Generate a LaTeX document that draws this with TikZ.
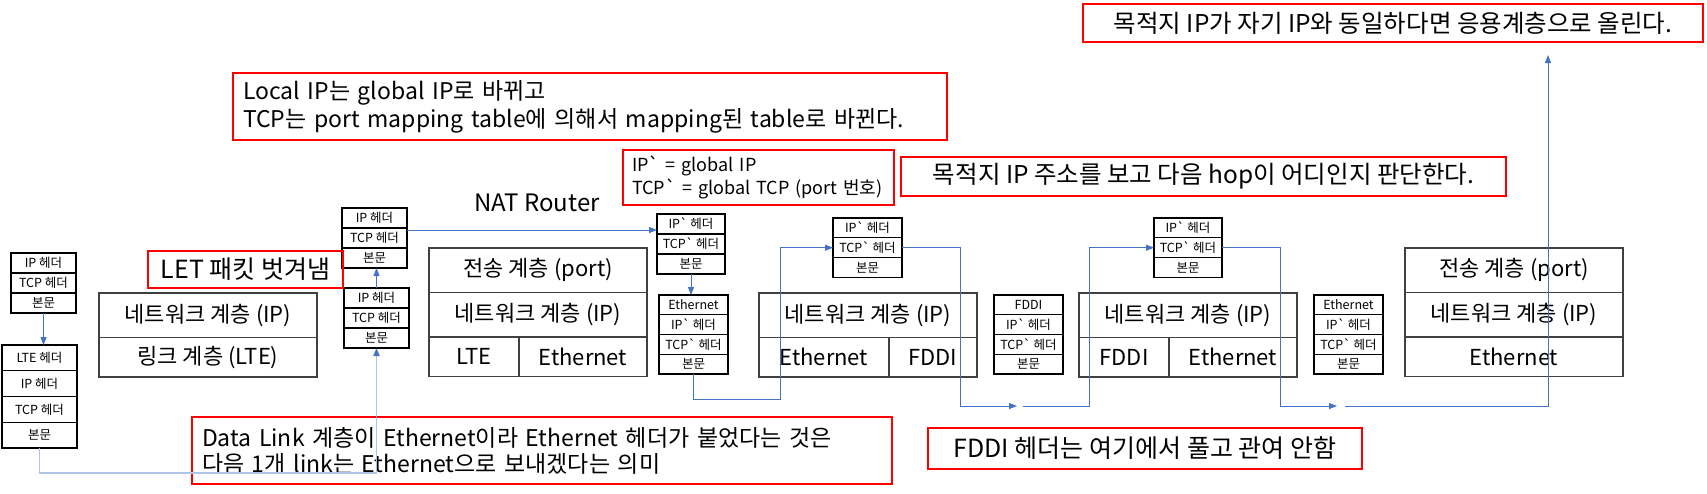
\documentclass[tikz,border=0pt]{standalone}
\usepackage{fontspec}
\setmainfont{Noto Sans CJK KR}[Ligatures=TeXOff]
\usepackage{tikz}
\usetikzlibrary{positioning}
\usetikzlibrary{arrows.meta}

\definecolor{flowblue}{RGB}{68,114,196}
\definecolor{paleblue}{RGB}{176,196,230}
\definecolor{layergray}{RGB}{64,64,64}

\tikzset{
  cell/.style={draw=black, line width=1.2pt, inner sep=0pt, outer sep=0pt, minimum height=20pt, font=\fontsize{12.5}{14}\selectfont},
  layer/.style={draw=layergray, line width=1.8pt, inner sep=0pt, outer sep=0pt, minimum width=218pt, minimum height=44.5pt, font=\fontsize{22}{26}\selectfont},
  note/.style={draw=red, line width=1.2pt, inner sep=0pt, outer sep=0pt, font=\fontsize{24.5}{28}\selectfont},
  flow/.style={flowblue, line width=1pt, -{Triangle[length=8pt,width=6pt]}},
}

\begin{document}
\begin{tikzpicture}[x=1pt, y=-1pt]
\useasboundingbox (0,0) rectangle (1707,493);

% sender packets
\begin{scope}[cell/.append style={minimum width=65pt}]
\node[cell, anchor=north west] (A1) at (11,253) {IP 헤더};
\node[cell, below=0pt of A1] (A2) {TCP 헤더};
\node[cell, below=0pt of A2] (A3) {본문};
\end{scope}
\begin{scope}[cell/.append style={minimum width=75pt, minimum height=25.75pt}]
\node[cell, anchor=north west] (B1) at (2,345) {LTE 헤더};
\node[cell, below=0pt of B1] (B2) {IP 헤더};
\node[cell, below=0pt of B2] (B3) {TCP 헤더};
\node[cell, below=0pt of B3] (B4) {본문};
\end{scope}

% link layer of the host
\node[layer, anchor=north west] (L1a) at (99,293) {네트워크 계층 (IP)};
\node[layer, minimum height=39.5pt, below=0pt of L1a] (L1b) {링크 계층 (LTE)};

% NAT router
\begin{scope}[cell/.append style={minimum width=65pt}]
\node[cell, anchor=north west] (C1) at (344,288) {IP 헤더};
\node[cell, below=0pt of C1] (C2) {TCP 헤더};
\node[cell, below=0pt of C2] (C3) {본문};
\node[cell, anchor=north west] (D1) at (342,208) {IP 헤더};
\node[cell, below=0pt of D1] (D2) {TCP 헤더};
\node[cell, below=0pt of D2] (D3) {본문};
\end{scope}
\node[font=\fontsize{24}{28}\selectfont] (natlabel) at (537,203) {NAT Router};
\node[layer, anchor=north west] (L2a) at (429,248) {전송 계층 (port)};
\node[layer, below=0pt of L2a] (L2b) {네트워크 계층 (IP)};
\node[layer, minimum width=90pt, minimum height=39.5pt, anchor=north west] (L2c) at (L2b.south west) {LTE};
\node[layer, minimum width=128pt, minimum height=39.5pt, anchor=north west] (L2d) at (L2c.north east) {Ethernet};

\begin{scope}[cell/.append style={minimum width=68pt}]
\node[cell, anchor=north west] (E1) at (657,214) {IP` 헤더};
\node[cell, below=0pt of E1] (E2) {TCP` 헤더};
\node[cell, below=0pt of E2] (E3) {본문};
\end{scope}
\begin{scope}[cell/.append style={minimum width=69pt, minimum height=19.75pt}]
\node[cell, anchor=north west] (F1) at (659,295) {Ethernet};
\node[cell, below=0pt of F1] (F2) {IP` 헤더};
\node[cell, below=0pt of F2] (F3) {TCP` 헤더};
\node[cell, below=0pt of F3] (F4) {본문};
\end{scope}

% router 2
\begin{scope}[cell/.append style={minimum width=69pt, minimum height=19.8pt}]
\node[cell, anchor=north west] (G1) at (833,218) {IP` 헤더};
\node[cell, below=0pt of G1] (G2) {TCP` 헤더};
\node[cell, below=0pt of G2] (G3) {본문};
\end{scope}
\node[layer, anchor=north west] (L3a) at (759,293) {네트워크 계층 (IP)};
\node[layer, minimum width=130pt, minimum height=39.5pt, anchor=north west] (L3b) at (L3a.south west) {Ethernet};
\node[layer, minimum width=88pt, minimum height=39.5pt, anchor=north west] (L3c) at (L3b.north east) {FDDI};

\begin{scope}[cell/.append style={minimum width=69pt, minimum height=19.75pt}]
\node[cell, anchor=north west] (H1) at (994,295) {FDDI};
\node[cell, below=0pt of H1] (H2) {IP` 헤더};
\node[cell, below=0pt of H2] (H3) {TCP` 헤더};
\node[cell, below=0pt of H3] (H4) {본문};
\end{scope}

% router 3
\begin{scope}[cell/.append style={minimum width=68pt, minimum height=19.8pt}]
\node[cell, anchor=north west] (J1) at (1154,218) {IP` 헤더};
\node[cell, below=0pt of J1] (J2) {TCP` 헤더};
\node[cell, below=0pt of J2] (J3) {본문};
\end{scope}
\node[layer, anchor=north west] (L4a) at (1079,293) {네트워크 계층 (IP)};
\node[layer, minimum width=90pt, minimum height=39.5pt, anchor=north west] (L4b) at (L4a.south west) {FDDI};
\node[layer, minimum width=128pt, minimum height=39.5pt, anchor=north west] (L4c) at (L4b.north east) {Ethernet};

\begin{scope}[cell/.append style={minimum width=69pt, minimum height=19.75pt}]
\node[cell, anchor=north west] (K1) at (1314,295) {Ethernet};
\node[cell, below=0pt of K1] (K2) {IP` 헤더};
\node[cell, below=0pt of K2] (K3) {TCP` 헤더};
\node[cell, below=0pt of K3] (K4) {본문};
\end{scope}

% receiver
\node[layer, anchor=north west] (L5a) at (1405,248) {전송 계층 (port)};
\node[layer, below=0pt of L5a] (L5b) {네트워크 계층 (IP)};
\node[layer, minimum height=39.5pt, below=0pt of L5b] (L5c) {Ethernet};

% notes
\node[note, minimum width=620pt, minimum height=38pt] (destnote) at (1393,23) {목적지 IP가 자기 IP와 동일하다면 응용계층으로 올린다.};
\node[note, anchor=north west, text width=694pt, inner xsep=10pt, minimum height=67pt, align=left, font=\fontsize{23}{28}\selectfont] (natnote) at (233,73) {Local IP는 global IP로 바뀌고\\TCP는 port mapping table에 의해서 mapping된 table로 바뀐다.};
\node[note, anchor=north west, text width=253pt, inner xsep=9pt, minimum height=55pt, align=left, font=\fontsize{18}{23}\selectfont] (primenote) at (623,150) {IP` = global IP\\TCP` = global TCP (port 번호)};
\node[note, minimum width=605pt, minimum height=39pt] (hopnote) at (1203.5,176.5) {목적지 IP 주소를 보고 다음 hop이 어디인지 판단한다.};
\node[note, minimum width=195pt, minimum height=37pt, font=\fontsize{25}{28}\selectfont] (letnote) at (245.5,269.5) {LET 패킷 벗겨냄};
\node[note, anchor=north west, text width=680pt, inner xsep=10pt, minimum height=67pt, align=left, font=\fontsize{23}{26}\selectfont] (linknote) at (192,417) {Data Link 계층이 Ethernet이라 Ethernet 헤더가 붙었다는 것은\\다음 1개 link는 Ethernet으로 보내겠다는 의미};
\node[note, minimum width=434pt, minimum height=41pt, font=\fontsize{25}{28}\selectfont] (fddinote) at (1145,448.5) {FDDI 헤더는 여기에서 풀고 관여 안함};

% path of the packet
\coordinate (lowA) at (200,473);
\coordinate (bendF) at (780,399);
\coordinate (bendG) at (960,406);
\coordinate (stopG) at (1017,406);
\coordinate (startH) at (1023,406);
\coordinate (bendH) at (1089,406);
\coordinate (bendJ) at (1280,406);
\coordinate (stopJ) at (1337,406);
\coordinate (startK) at (1345,406);
\coordinate (upK) at (1548,55);

\draw[flow] (A3.south) -- (A3.south |- B1.north);
\draw[flow, paleblue, line width=1.8pt, -{Triangle[length=8pt,width=6pt,color=flowblue]}] (B4.south) |- (lowA) -| (C3.south);
\draw[flow] (C1.north) -- (C1.north |- D3.south);
\draw[flow] ([yshift=-2pt]D2.north east) -- ([yshift=-2pt]D2.north east -| E1.west);
\draw[flow] (E3.south) -- (E3.south |- F1.north);
\draw[flow] (F4.south) |- (bendF) |- (G2.west);
\draw[flow] (G2.east) -| (bendG) -- (stopG);
\draw[flow] (startH) -- (bendH) |- (J2.west);
\draw[flow] (J2.east) -| (bendJ) -- (stopJ);
\draw[flow] (startK) -| (upK);
\end{tikzpicture}
\end{document}
